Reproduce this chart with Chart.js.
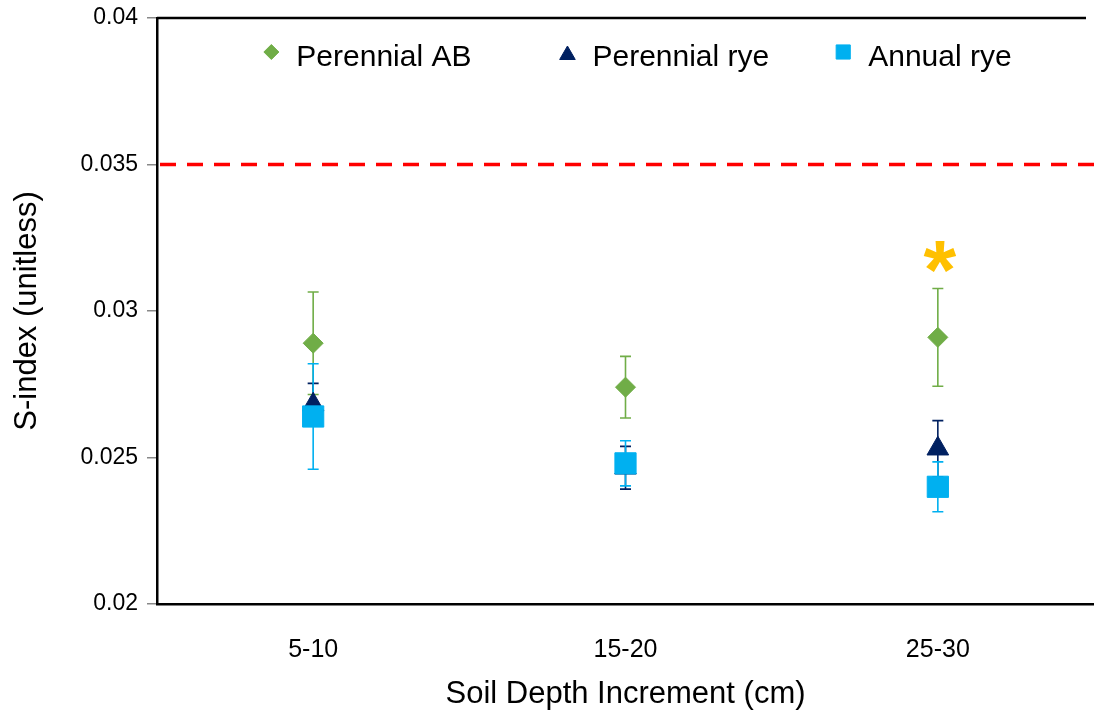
<!DOCTYPE html>
<html>
<head>
<meta charset="utf-8">
<script src="https://cdn.jsdelivr.net/npm/chart.js@4"></script>
<style>
  html, body { margin: 0; padding: 0; background: #fff; }
  #wrap { width: 1094px; height: 719px; }
</style>
</head>
<body>
<div id="wrap"><canvas id="sChart"></canvas></div>
<script>
var depths = ['5-10', '15-20', '25-30'];

var abValues = [0.0289, 0.0274, 0.0291];
var abErrors = [0.00175, 0.00105, 0.00167];

var ryeValues = [0.0268, 0.02465, 0.0253];
var ryeErrors = [0.00073, 0.00073, 0.00096];

var annualValues = [0.0264, 0.0248, 0.0240];
var annualErrors = [0.0018, 0.00077, 0.00085];

var yTicks = [0.02, 0.025, 0.03, 0.035, 0.04];
var yTickLabels = ['0.02', '0.025', '0.03', '0.035', '0.04'];

var threshold = 0.035;
// asterisk over the 25-30 Perennial AB point
var starIndex = 2;
var starValue = 0.0318;

var FONT = "'Liberation Sans', Arial, sans-serif";

var errorsBySeries = [abErrors, ryeErrors, annualErrors];

// vertical error bars, drawn under the markers
var errorBars = {
    id: 'errorBars',
    beforeDatasetsDraw: function (chart) {
        var ctx = chart.ctx;
        var y = chart.scales.y;
        chart.data.datasets.forEach(function (ds, i) {
            var meta = chart.getDatasetMeta(i);
            var errs = errorsBySeries[i];
            ctx.save();
            ctx.strokeStyle = ds.borderColor;
            ctx.lineWidth = 1.6;
            meta.data.forEach(function (pt, j) {
                var v = ds.data[j];
                var top = y.getPixelForValue(v + errs[j]);
                var bot = y.getPixelForValue(v - errs[j]);
                ctx.beginPath();
                ctx.moveTo(pt.x, top);
                ctx.lineTo(pt.x, bot);
                ctx.moveTo(pt.x - 5.5, top);
                ctx.lineTo(pt.x + 5.5, top);
                ctx.moveTo(pt.x - 5.5, bot);
                ctx.lineTo(pt.x + 5.5, bot);
                ctx.stroke();
            });
            ctx.restore();
        });
    }
};

// red dashed reference line, top frame line and the significance star
var extras = {
    id: 'extras',
    beforeDatasetsDraw: function (chart) {
        var ctx = chart.ctx;
        var area = chart.chartArea;
        var yy = chart.scales.y.getPixelForValue(threshold);
        ctx.save();
        ctx.strokeStyle = '#ff0000';
        ctx.lineWidth = 3.5;
        ctx.setLineDash([16, 11]);
        ctx.beginPath();
        ctx.moveTo(area.left + 3, yy);
        ctx.lineTo(area.right, yy);
        ctx.stroke();
        ctx.setLineDash([]);
        ctx.strokeStyle = '#000';
        ctx.lineWidth = 2.5;
        ctx.beginPath();
        ctx.moveTo(area.left, area.top);
        ctx.lineTo(area.right - 8, area.top);
        ctx.stroke();
        ctx.restore();
    },
    afterDatasetsDraw: function (chart) {
        var ctx = chart.ctx;
        var x = chart.scales.x.getPixelForValue(starIndex);
        var y = chart.scales.y.getPixelForValue(starValue);
        ctx.save();
        ctx.fillStyle = '#ffc000';
        ctx.font = 'bold 84px ' + FONT;
        ctx.textAlign = 'center';
        ctx.textBaseline = 'middle';
        ctx.fillText('*', x + 2, y + 18);
        ctx.restore();
    }
};

// legend drawn inside the plot, near the top
var innerLegend = {
    id: 'innerLegend',
    afterDraw: function (chart) {
        var ctx = chart.ctx;
        var area = chart.chartArea;
        var gapText = 25, gapItems = [96, 74];
        ctx.save();
        ctx.font = '30px ' + FONT;
        var widths = chart.data.datasets.map(function (ds) { return ctx.measureText(ds.label).width; });
        var total = widths.reduce(function (a, b) { return a + b; }, 0) + 3 * gapText + gapItems[0] + gapItems[1];
        var x = (area.left + area.right) / 2 - total / 2 + 16;
        var cy = area.top + 36;
        chart.data.datasets.forEach(function (ds, i) {
            var r = ds.pointStyle === 'triangle' ? 9 : (ds.pointStyle === 'rect' ? 10 : 7.5);
            var my = ds.pointStyle === 'triangle' ? cy + 1 : cy - 2;
            ctx.fillStyle = ds.backgroundColor;
            ctx.strokeStyle = ds.borderColor;
            ctx.lineWidth = 1;
            Chart.helpers.drawPoint(ctx, { pointStyle: ds.pointStyle, radius: r, borderWidth: 1, rotation: 0 }, x, my);
            ctx.fillStyle = '#000';
            ctx.textAlign = 'left';
            ctx.textBaseline = 'middle';
            ctx.fillText(ds.label, x + gapText, cy + 4);
            x += gapText + widths[i] + (gapItems[i] || 0);
        });
        ctx.restore();
    }
};

new Chart(document.getElementById('sChart'), {
    type: 'line',
    data: {
        labels: depths,
        datasets: [
            {
                label: 'Perennial AB',
                data: abValues,
                showLine: false,
                pointStyle: 'rectRot',
                pointRadius: 10,
                pointHoverRadius: 10,
                backgroundColor: '#70ad47',
                borderColor: '#70ad47',
                pointBorderWidth: 1,
                order: 3
            },
            {
                label: 'Perennial rye',
                data: ryeValues,
                showLine: false,
                pointStyle: 'triangle',
                pointRadius: 12.5,
                pointHoverRadius: 12.5,
                backgroundColor: '#002060',
                borderColor: '#002060',
                pointBorderWidth: 1,
                order: 2
            },
            {
                label: 'Annual rye',
                data: annualValues,
                showLine: false,
                pointStyle: 'rect',
                pointRadius: 15,
                pointHoverRadius: 15,
                backgroundColor: '#00b0f0',
                borderColor: '#00b0f0',
                pointBorderWidth: 1,
                order: 1
            }
        ]
    },
    options: {
        responsive: true,
        maintainAspectRatio: false,
        animation: false,
        events: [],
        layout: { autoPadding: false, padding: { top: 18, right: 0, bottom: 0, left: 0 } },
        plugins: {
            legend: { display: false },
            tooltip: { enabled: false }
        },
        scales: {
            x: {
                offset: true,
                grid: { display: false, drawTicks: false },
                border: { display: true, color: '#000', width: 2.5 },
                ticks: { color: '#000', padding: 31, font: { family: FONT, size: 25 } },
                title: {
                    display: true,
                    text: 'Soil Depth Increment (cm)',
                    color: '#000',
                    font: { family: FONT, size: 31 },
                    padding: { top: 0, bottom: 6 }
                },
                afterFit: function (scale) {
                    scale.height = 115;
                    scale.paddingLeft = 0;
                    scale.paddingRight = 0;
                }
            },
            y: {
                min: 0.02,
                max: 0.04,
                afterBuildTicks: function (scale) {
                    scale.ticks = yTicks.map(function (v) { return { value: v }; });
                },
                grid: {
                    drawOnChartArea: false,
                    drawTicks: true,
                    tickLength: 10,
                    color: '#888',
                    lineWidth: 1.5
                },
                border: { display: true, color: '#000', width: 2.5 },
                ticks: {
                    color: '#000',
                    padding: 9,
                    font: { family: FONT, size: 23 },
                    callback: function (value) {
                        var k = yTicks.indexOf(value);
                        return k >= 0 ? yTickLabels[k] : '';
                    }
                },
                title: {
                    display: true,
                    text: 'S-index (unitless)',
                    color: '#000',
                    font: { family: FONT, size: 31 },
                    padding: { top: 9, bottom: 0 }
                },
                afterFit: function (scale) {
                    scale.width = 157;
                    scale.paddingTop = 0;
                    scale.paddingBottom = 0;
                }
            }
        }
    },
    plugins: [errorBars, extras, innerLegend]
});
</script>
</body>
</html>
